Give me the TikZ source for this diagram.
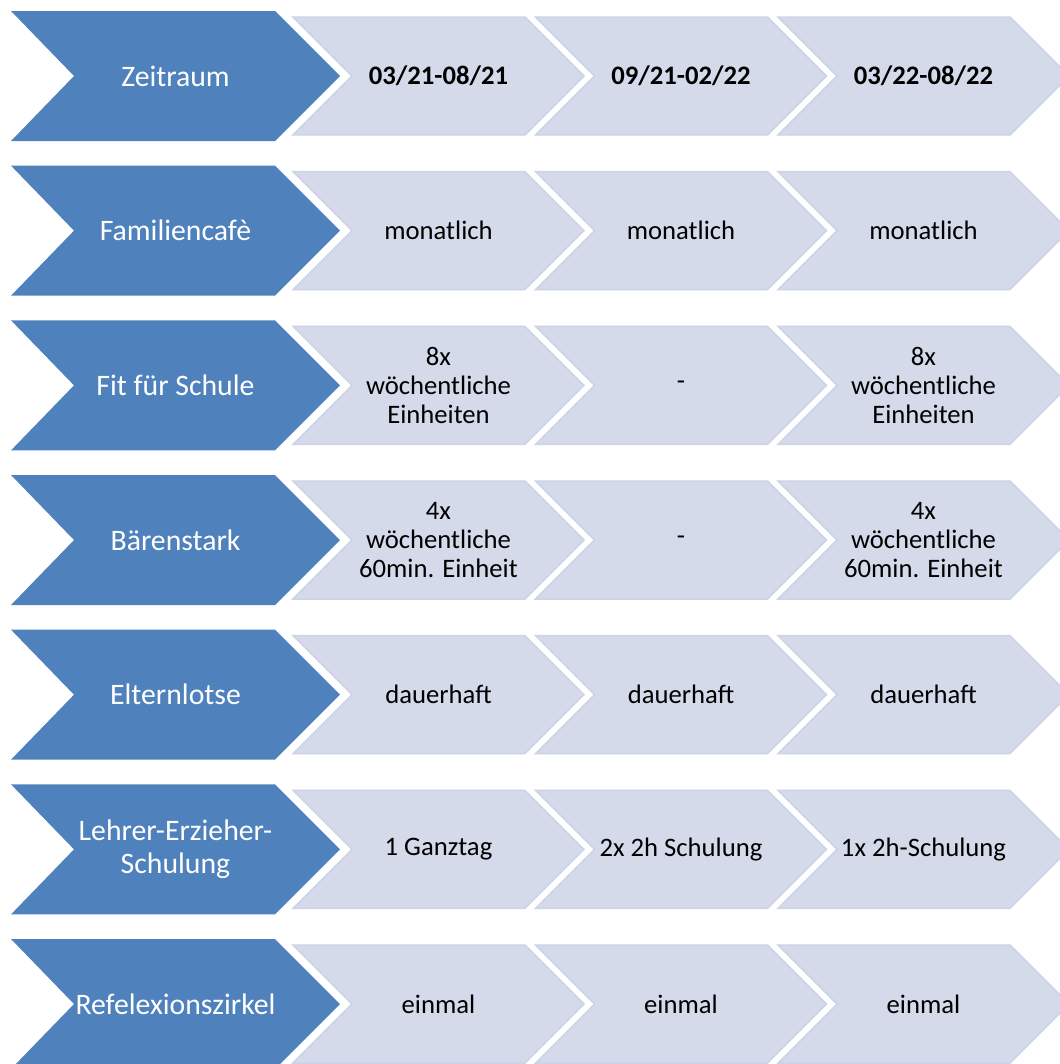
\documentclass[tikz,border=0pt]{standalone}
\usepackage{fontspec}
\setmainfont{Carlito}
\usepackage{tikz}
\usetikzlibrary{positioning}
\usepackage{xcolor}
\definecolor{headblue}{HTML}{4F81BD}
\definecolor{cellblue}{HTML}{D4DAEA}
\definecolor{celledge}{HTML}{CCD3E6}

\begin{document}
\begin{tikzpicture}[x=0.75pt,y=-0.75pt,
   headshape/.style={fill=headblue},
   cellshape/.style={fill=cellblue,draw=celledge,line width=1.1pt,line join=miter},
   headbox/.style={text=white,align=center,inner sep=0pt,font=\fontsize{22.3}{24.75}\selectfont},
   cellbox/.style={text=black,align=center,inner sep=0pt,font=\fontsize{20}{22}\selectfont}]
   \useasboundingbox (0,0) rectangle (1060,1064);
   \clip (0,0) rectangle (1060,1064);

   % chevrons
   \foreach \r in {0,...,6} {
      \pgfmathsetmacro\yc{76+154.67*\r}
      \fill[headshape] (11,\yc-65) -- (275,\yc-65) -- (340,\yc) -- (275,\yc+65)
         -- (11,\yc+65) -- (74,\yc) -- cycle;
      \foreach \c in {0,1,2} {
         \pgfmathsetmacro\xl{293+242.5*\c}
         \filldraw[cellshape] (\xl,\yc-59) -- ++(232,0) -- ++(59,59) -- ++(-59,59)
            -- ++(-232,0) -- ++(59,-59) -- cycle;
      }
   }

   % labels
   \node[headbox] (zeit) at (175.5,76) {Zeitraum};
   \node[cellbox] (zeit1) at (438.5,76) {\textbf{03/21-08/21}};
   \node[cellbox] (zeit2) at (681,76) {\textbf{09/21-02/22}};
   \node[cellbox] (zeit3) at (923.5,76) {\textbf{03/22-08/22}};

   \node[headbox] (cafe) at (175.5,230.67) {Familiencafè};
   \node[cellbox] (cafe1) at (438.5,230.67) {monatlich};
   \node[cellbox] (cafe2) at (681,230.67) {monatlich};
   \node[cellbox] (cafe3) at (923.5,230.67) {monatlich};

   \node[headbox] (fit) at (175.5,385.33) {Fit für Schule};
   \node[cellbox] (fit1) at (438.5,385.33) {8x\\wöchentliche\\Einheiten};
   \node[cellbox] (fit2) at (681,385.33) {-};
   \node[cellbox] (fit3) at (923.5,385.33) {8x\\wöchentliche\\Einheiten};

   \node[headbox] (baer) at (175.5,540) {Bärenstark};
   \node[cellbox] (baer1) at (438.5,540) {4x\\wöchentliche\\60min. Einheit};
   \node[cellbox] (baer2) at (681,540) {-};
   \node[cellbox] (baer3) at (923.5,540) {4x\\wöchentliche\\60min. Einheit};

   \node[headbox] (lotse) at (175.5,694.67) {Elternlotse};
   \node[cellbox] (lotse1) at (438.5,694.67) {dauerhaft};
   \node[cellbox] (lotse2) at (681,694.67) {dauerhaft};
   \node[cellbox] (lotse3) at (923.5,694.67) {dauerhaft};

   \node[headbox] (schul) at (175.5,849.33) {Lehrer-Erzieher-\\Schulung};
   \node[cellbox] (schul1) at (438.5,849.33) {1 Ganztag};
   \node[cellbox] (schul2) at (681,849.33) {2x 2h Schulung};
   \node[cellbox] (schul3) at (923.5,849.33) {1x 2h-Schulung};

   \node[headbox] (zirkel) at (175.5,1004) {Refelexionszirkel};
   \node[cellbox] (zirkel1) at (438.5,1004) {einmal};
   \node[cellbox] (zirkel2) at (681,1004) {einmal};
   \node[cellbox] (zirkel3) at (923.5,1004) {einmal};
\end{tikzpicture}
\end{document}
